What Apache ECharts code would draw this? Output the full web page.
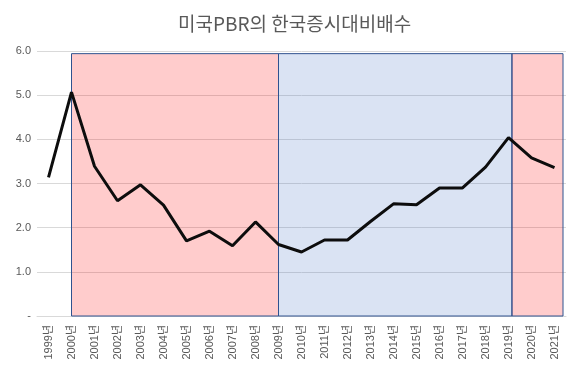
<!DOCTYPE html>
<html>
<head>
<meta charset="utf-8">
<script src="https://cdn.jsdelivr.net/npm/echarts@6/dist/echarts.min.js"></script>
<style>html,body{margin:0;padding:0;background:#fff}#c{width:578px;height:365px}</style>
</head>
<body>
<div id="c"></div>
<script>
const years = ['1999년','2000년','2001년','2002년','2003년','2004년','2005년','2006년','2007년','2008년','2009년','2010년','2011년','2012년','2013년','2014년','2015년','2016년','2017년','2018년','2019년','2020년','2021년'];
const ratio = [3.14,5.07,3.39,2.61,2.97,2.51,1.70,1.92,1.59,2.13,1.62,1.45,1.72,1.72,2.14,2.54,2.52,2.90,2.90,3.37,4.04,3.58,3.36];
const yTicks = [0,1,2,3,4,5,6];
// shaded periods: [startIndex, endIndex, color]
const periods = [
  [1, 10, 'rgba(255,0,0,0.2)'],
  [10, 20.15, 'rgba(68,114,196,0.2)'],
  [20.15, 22.37, 'rgba(255,0,0,0.2)']
];
const periodTop = 5.94;

const font = '"Liberation Sans","Noto Sans CJK KR",sans-serif';
const chart = echarts.init(document.getElementById('c'));
chart.setOption({
  animation: false,
  title: {
    text: '미국PBR의 한국증시대비배수',
    left: 173, top: 9,
    textStyle: {fontFamily: '"Noto Sans CJK KR",sans-serif', fontSize: 19, fontWeight: 'normal', color: '#595959'}
  },
  grid: {left: 37, right: 12, top: 51, bottom: 49, containLabel: false},
  xAxis: [{
    type: 'category', data: years, boundaryGap: true,
    axisLine: {lineStyle: {color: '#D9D9D9'}},
    axisTick: {show: false},
    axisLabel: {rotate: 90, interval: 0, fontSize: 11, color: '#595959', fontFamily: font, margin: 9}
  }, {
    type: 'value', min: -0.5, max: 22.5, show: false
  }],
  yAxis: {
    type: 'value', min: yTicks[0], max: yTicks[yTicks.length-1], interval: 1,
    axisLine: {show: false}, axisTick: {show: false},
    splitLine: {lineStyle: {color: '#D9D9D9'}},
    axisLabel: {fontSize: 11, color: '#595959', fontFamily: font, margin: 6,
      formatter: v => v === 0 ? '-' : v.toFixed(1)}
  },
  series: [{
    type: 'line', xAxisIndex: 1, data: [], silent: true,
    markArea: {
      silent: true,
      data: periods.map(p => [
        {coord: [p[0], 0], itemStyle: {color: p[2], borderColor: '#2F528F', borderWidth: 1}},
        {coord: [p[1], periodTop]}
      ])
    }
  }, {
    type: 'line', data: ratio, symbol: 'none', z: 5,
    lineStyle: {color: '#0d0d0d', width: 3}
  }]
});
</script>
</body>
</html>
